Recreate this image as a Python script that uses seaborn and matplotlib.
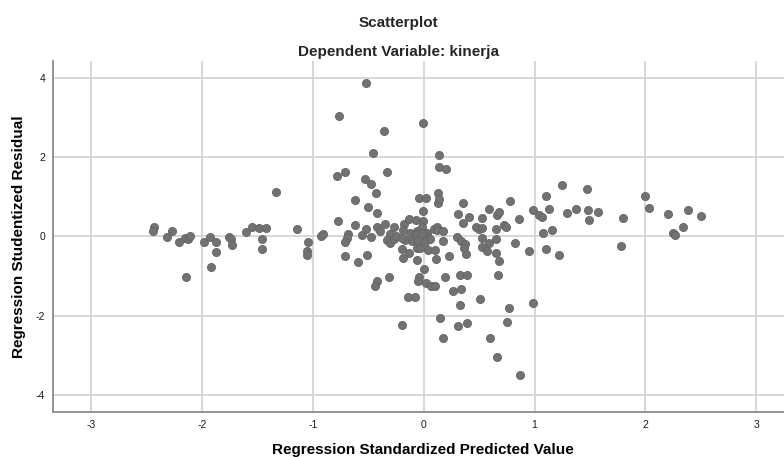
import numpy as np
import pandas as pd
import matplotlib
matplotlib.use("Agg")
import matplotlib.pyplot as plt
import seaborn as sns

pred = [
    -2.43, -2.44, -2.27, -2.32, -2.21, -2.15, -2.13, -2.11, -1.98, -1.93,
    -1.87, -1.87, -1.92, -2.14, -1.76, -1.74, -1.73, -1.60, -1.55, -1.49,
    -1.42, -1.46, -1.46, -1.33, -1.14,
    -1.04, -1.05, -1.05, -0.93, -0.91, -0.77, -0.68, -0.69, -0.71, -0.62,
    -0.56, -0.52, -0.48, -0.42, -0.39, -0.35, -0.27, -0.30, -0.33, -0.30,
    -0.27, -0.25, -0.18, -0.13, -0.07, -0.01, -0.17, -0.12, -0.11, -0.06,
    -0.07, -0.05, -0.02, 0.03, 0.01, 0.04, 0.09, 0.12, -0.20, -0.13,
    -0.19, -0.06, -0.03, -0.06, 0.04, 0.10, 0.11, -0.71, -0.59, -0.51,
    0.00, -0.04, -0.05, 0.02, 0.07, 0.10, -0.31, -0.42, -0.44, -0.14,
    -0.08, -0.62, -0.50, -0.42, -0.04, 0.02, 0.13, -0.01, -0.43, -0.48,
    -0.53,
    -0.52, -0.76, -0.01, -0.36, -0.46, 0.14, 0.14, 0.20, -0.78, -0.71,
    -0.33,
    0.13, 0.14, 0.35, 0.78, 1.10, 1.25, 0.99, 1.04, 1.07, 1.13,
    1.29, 0.31, 0.41, 0.35, 0.53, 0.59, 0.66, 0.68, 0.86, 0.72,
    0.74, 0.47, 0.50, 0.53, 0.65, 0.12, 0.17, 0.03, 0.01, 0.06,
    0.17, -0.02, 0.30, 0.34, 0.37, 0.53, 0.59, 0.65, 0.53, 0.57,
    0.65, 0.82, 0.36, 0.38, 0.23, 0.68, 0.95, 1.10, 1.22, 1.08,
    1.16, 0.19, 0.33, 0.39, 0.67, 0.26, 0.34, 0.33, 0.51, 0.77,
    0.99,
    -0.20, 0.15, 0.31, 0.39, 0.17, 0.75, 0.60, 0.66, 0.87,
    1.47, 1.37, 1.48, 1.57, 1.49, 1.80, 1.78, 2.00, 2.03, 2.20,
    2.38, 2.50, 2.34, 2.25, 2.27,
    -0.19, -0.20,
]
resid = [
    0.23, 0.13, 0.13, -0.01, -0.13, -0.03, -0.07, 0.02, -0.14, -0.02,
    -0.15, -0.39, -0.77, -1.03, -0.01, -0.06, -0.22, 0.11, 0.25, 0.22,
    0.22, -0.06, -0.32, 1.13, 0.19,
    -0.15, -0.37, -0.47, 0.01, 0.06, 0.38, 0.06, -0.05, -0.15, 0.30,
    0.04, 0.19, -0.02, 0.23, 0.15, 0.32, 0.25, 0.06, -0.09, -0.16,
    -0.07, 0.01, 0.31, 0.44, 0.42, 0.40, -0.09, 0.08, -0.11, 0.15,
    0.06, -0.11, 0.23, 0.10, -0.02, -0.07, 0.18, 0.25, -0.31, -0.43,
    -0.54, -0.30, -0.30, -0.59, -0.34, -0.34, -0.58, -0.49, -0.65, -0.46,
    -0.83, -1.03, -1.12, -1.17, -1.25, -1.24, -1.03, -1.13, -1.24, -1.54,
    -1.54, 0.92, 0.75, 0.59, 0.97, 0.97, 0.86, 0.65, 1.11, 1.33,
    1.46,
    3.88, 3.06, 2.87, 2.66, 2.10, 2.05, 1.76, 1.71, 1.54, 1.63,
    1.63,
    1.09, 0.94, 0.86, 0.89, 1.03, 1.31, 0.67, 0.55, 0.49, 0.70,
    0.60, 0.57, 0.49, 0.35, 0.47, 0.69, 0.55, 0.62, 0.45, 0.28,
    0.23, 0.23, 0.18, 0.22, 0.18, 0.16, 0.15, -0.02, -0.13, -0.07,
    -0.11, 0.08, -0.01, -0.12, -0.19, -0.04, -0.17, -0.07, -0.27, -0.37,
    -0.43, -0.17, -0.29, -0.44, -0.49, -0.63, -0.36, -0.32, -0.46, 0.08,
    0.16, -1.03, -0.97, -0.97, -0.97, -1.39, -1.34, -1.73, -1.59, -1.81,
    -1.68,
    -2.23, -2.06, -2.27, -2.20, -2.57, -2.16, -2.57, -3.05, -3.51,
    1.20, 0.69, 0.68, 0.61, 0.42, 0.47, -0.24, 1.02, 0.71, 0.57,
    0.66, 0.53, 0.25, 0.08, 0.04,
    0.17, -0.05,
]
x_ticks = [-3, -2, -1, 0, 1, 2, 3]
y_ticks = [-4, -2, 0, 2, 4]

df = pd.DataFrame({"pred": pred, "resid": resid})

sns.set_style("whitegrid")
plt.rcParams["font.family"] = ["Liberation Sans", "DejaVu Sans"]
plt.rcParams["axes.unicode_minus"] = False

fig = plt.figure(figsize=(7.84, 4.57), dpi=100)
ax = fig.add_axes([0.0682, 0.0985, 0.9318, 0.768])

sns.scatterplot(data=df, x="pred", y="resid", ax=ax, s=34,
                color="#727272", edgecolor="#636363", linewidth=0.6, zorder=3)

ax.set_xlim(-3.34, 3.25)
ax.set_ylim(-4.44, 4.44)
ax.set_xticks(x_ticks)
ax.set_yticks(y_ticks)
ax.grid(True, color="#d4d4d4", linewidth=1.3)
ax.tick_params(axis="both", length=0, labelsize=7.5, colors="#1a1a1a", pad=6)
for side in ["top", "right"]:
    ax.spines[side].set_visible(False)
for side in ["left", "bottom"]:
    ax.spines[side].set_color("#8a8a8a")
    ax.spines[side].set_linewidth(1.3)

ax.set_xlabel("Regression Standardized Predicted Value", fontsize=11,
              fontweight="bold", va="center", color="black")
ax.set_ylabel("Regression Studentized Residual", fontsize=11,
              fontweight="bold", va="center", color="black")
ax.xaxis.set_label_coords(0.506, -0.108)
ax.yaxis.set_label_coords(-0.047, 0.5)

fig.text(0.508, 0.949, "Scatterplot", ha="center", va="center",
         fontsize=11, fontweight="bold")
fig.text(0.508, 0.886, "Dependent Variable: kinerja", ha="center", va="center",
         fontsize=11, fontweight="bold")

fig.savefig("out.png", dpi=100)
